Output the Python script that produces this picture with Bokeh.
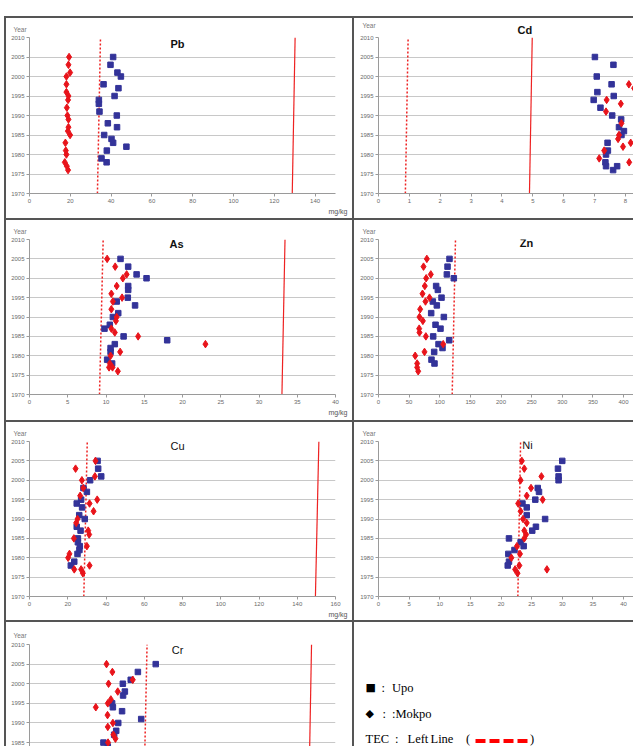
from bokeh.plotting import figure
from bokeh.models import Label, Spacer, Range1d, Title
from bokeh.layouts import column, row
from bokeh.embed import file_html
from bokeh.resources import INLINE
from bokeh.core.properties import value

# ---------------------------------------------------------------- data
YEAR_SPAN = [1970, 2010]

# Pb (mg/kg)
PB_UPO_YEAR = [2005, 2003, 2001, 2000, 1998, 1997, 1995, 1994, 1993, 1991,
               1990, 1988, 1987, 1985, 1984, 1983, 1982, 1981, 1979, 1978]
PB_UPO = [41.0, 39.7, 43.1, 44.8, 36.3, 43.6, 41.7, 34.0, 34.0, 34.3,
          42.8, 38.4, 42.9, 36.6, 40.2, 41.0, 47.5, 37.9, 35.3, 37.8]
PB_MOKPO_YEAR = [2005, 2003, 2001, 2000, 1998, 1996, 1995, 1994, 1992, 1990,
                 1989, 1987, 1986, 1985, 1983, 1981, 1980, 1978, 1977, 1976]
PB_MOKPO = [19.4, 19.1, 19.9, 18.1, 18.1, 18.1, 19.1, 18.9, 18.3, 18.6,
            19.1, 19.1, 18.8, 19.9, 17.6, 17.8, 18.1, 17.3, 18.3, 18.9]
PB_TEC = [33.3, 34.8]      # x at 1970, x at 2010
PB_PEC = [128.8, 130.2]

# Cd
CD_UPO_YEAR = [2005, 2003, 2000, 1998, 1996, 1995, 1994, 1992, 1990, 1989,
               1987, 1986, 1985, 1983, 1981, 1980, 1978, 1977, 1977, 1976]
CD_UPO = [7.01, 7.61, 7.07, 7.55, 7.09, 7.62, 6.97, 7.19, 7.57, 7.86,
          7.79, 7.95, 7.87, 7.42, 7.43, 7.37, 7.35, 7.37, 7.73, 7.60]
CD_MOKPO_YEAR = [1998, 1997, 1994, 1993, 1991, 1988, 1985, 1984, 1983, 1982,
                 1981, 1979, 1978]
CD_MOKPO = [8.11, 8.28, 7.39, 7.85, 7.37, 7.87, 7.79, 7.76, 8.17, 7.92,
            7.31, 7.15, 8.12]
CD_TEC = [0.87, 0.96]
CD_PEC = [4.89, 4.98]

# As
AS_UPO_YEAR = [2005, 2003, 2001, 2000, 1998, 1997, 1995, 1994, 1993, 1991,
               1990, 1988, 1987, 1985, 1984, 1983, 1982, 1981, 1979, 1978]
AS_UPO = [11.9, 12.9, 14.0, 15.3, 12.9, 12.9, 12.85, 11.4, 13.8, 11.6,
          10.9, 10.5, 9.8, 12.3, 18.0, 11.15, 10.6, 10.6, 10.15, 10.8]
AS_MOKPO_YEAR = [2005, 2003, 2001, 2000, 1998, 1996, 1995, 1994, 1992, 1990,
                 1989, 1987, 1986, 1985, 1983, 1981, 1980, 1978, 1977, 1977, 1976]
AS_MOKPO = [10.15, 11.2, 12.7, 12.2, 11.4, 10.7, 12.1, 10.9, 10.7, 11.4,
            11.3, 10.7, 11.15, 14.2, 23.0, 11.85, 10.6, 10.5, 10.4, 10.85, 11.55]
AS_TEC = [9.15, 9.63]
AS_PEC = [33.0, 33.4]

# Zn
ZN_UPO_YEAR = [2005, 2003, 2001, 2000, 1998, 1997, 1995, 1994, 1993, 1991,
               1990, 1988, 1987, 1985, 1984, 1983, 1982, 1981, 1979, 1978]
ZN_UPO = [115.9, 112.7, 111.6, 123.0, 94.1, 96.9, 102.9, 88.7, 95.2, 86.0,
          106.7, 93.1, 101.2, 89.3, 115.4, 98.0, 104.5, 90.9, 86.5, 91.4]
ZN_MOKPO_YEAR = [2005, 2003, 2001, 2000, 1998, 1996, 1995, 1994, 1992, 1990,
                 1989, 1987, 1986, 1985, 1983, 1981, 1980, 1978, 1977, 1976]
ZN_MOKPO = [78.9, 73.5, 85.4, 77.8, 75.6, 71.8, 83.3, 76.7, 68.0, 66.9,
            72.4, 66.4, 66.9, 77.3, 105.6, 75.1, 59.9, 63.1, 63.1, 64.8]
ZN_TEC = [120.3, 125.7]

# Cu
CU_UPO_YEAR = [2005, 2003, 2001, 2000, 1998, 1997, 1995, 1994, 1993, 1991,
               1990, 1988, 1987, 1985, 1984, 1983, 1982, 1981, 1979, 1978]
CU_UPO = [35.6, 35.9, 37.5, 31.7, 28.2, 30.0, 27.0, 24.7, 27.5, 26.0,
          28.9, 24.7, 26.7, 25.3, 25.3, 26.3, 26.1, 25.1, 23.4, 21.6]
CU_MOKPO_YEAR = [2005, 2003, 2001, 2000, 1998, 1996, 1995, 1994, 1992, 1990,
                 1989, 1987, 1986, 1985, 1983, 1981, 1980, 1978, 1977, 1977, 1976]
CU_MOKPO = [34.5, 24.1, 34.2, 27.4, 28.1, 26.5, 35.4, 31.4, 33.5, 25.1,
            24.4, 30.7, 31.2, 23.2, 30.0, 20.9, 20.2, 31.4, 23.4, 27.0, 27.9]
CU_TEC = [28.4, 30.2]
CU_PEC = [149.5, 151.3]

# Ni
NI_UPO_YEAR = [2005, 2003, 2001, 2000, 1998, 1997, 1995, 1994, 1993, 1991,
               1990, 1988, 1987, 1985, 1984, 1983, 1982, 1981, 1979, 1978]
NI_UPO = [30.0, 29.3, 29.4, 29.4, 26.0, 26.2, 25.6, 23.5, 24.2, 24.2,
          27.2, 25.7, 25.1, 21.3, 23.2, 23.7, 22.2, 21.2, 21.3, 21.1]
NI_MOKPO_YEAR = [2005, 2003, 2001, 2000, 1998, 1996, 1995, 1994, 1992, 1990,
                 1989, 1987, 1986, 1985, 1983, 1981, 1980, 1978, 1977, 1977, 1976]
NI_MOKPO = [23.4, 23.8, 26.6, 23.2, 24.9, 24.2, 26.8, 22.8, 23.2, 23.6,
            24.2, 23.8, 24.1, 23.8, 22.6, 23.1, 21.7, 23.0, 22.3, 27.5, 22.7]
NI_TEC = [22.75, 23.2]

# Cr
CR_UPO_YEAR = [2005, 2003, 2001, 2000, 1998, 1997, 1995, 1994, 1993, 1991,
               1990, 1988, 1987, 1985, 1984]
CR_UPO = [49.5, 42.5, 39.7, 36.6, 37.4, 36.7, 32.4, 32.7, 36.3, 43.8,
          34.8, 34.0, 33.2, 29.0, 30.7]
CR_MOKPO_YEAR = [2005, 2003, 2001, 2000, 1998, 1996, 1995, 1994, 1992, 1990,
                 1989, 1987, 1986, 1985]
CR_MOKPO = [30.2, 32.5, 40.5, 31.0, 34.6, 31.9, 30.7, 26.0, 30.6, 32.7,
            30.7, 32.9, 33.7, 30.8]
CR_TEC = [44.8, 46.1]
CR_PEC = [109.5, 110.6]

# ---------------------------------------------------------------- style
UPO_COLOR = "#333399"
MOKPO_COLOR = "#e8141b"
LIMIT_COLOR = "#ee2222"
RULE_COLOR = "#555555"
GRID_COLOR = "#c8c8c8"
AXIS_COLOR = "#9a9a9a"
SANS = "Liberation Sans"
SERIF = "Liberation Serif"


def rule(w, h):
    return Spacer(width=w, height=h, styles={"background-color": RULE_COLOR})


def panel(cell_w, cell_h, border, x_end, x_ticks, y_start, title, bold,
          title_dx, title_dy, upo_x, upo_y, mok_x, mok_y,
          tec=None, pec=None, unit_label=False, show_xaxis=True,
          year_standoff=10, title_above=False):
    left, right, top, bottom = border
    p = figure(width=cell_w, height=cell_h,
               x_range=Range1d(0, x_end), y_range=Range1d(y_start, 2010),
               output_backend="svg", toolbar_location=None,
               title_location=None,
               min_border_left=left, min_border_right=right,
               min_border_top=top, min_border_bottom=bottom,
               x_axis_location="below" if show_xaxis else None)
    p.outline_line_color = None
    p.background_fill_color = "white"
    p.border_fill_color = "white"

    p.yaxis.ticker = list(range(1970, 2011, 5))
    p.xgrid.visible = False
    p.ygrid.grid_line_color = GRID_COLOR
    p.ygrid.grid_line_width = 1

    axes = list(p.yaxis) + (list(p.xaxis) if show_xaxis else [])
    for ax in axes:
        ax.axis_line_color = AXIS_COLOR
        ax.major_tick_line_color = AXIS_COLOR
        ax.major_tick_out = 3
        ax.major_tick_in = 0
        ax.minor_tick_line_color = None
        ax.major_label_text_font = SANS
        ax.major_label_text_font_size = "6px"
        ax.major_label_text_color = "#6a6a6a"
        ax.major_label_standoff = 2
    if show_xaxis:
        p.xaxis.ticker = x_ticks

    # guideline values: dashed = lower (TEC), solid = upper (PEC)
    if tec is not None:
        p.line(x=tec, y=YEAR_SPAN, line_color=LIMIT_COLOR, line_width=1.5,
               line_dash="2 2")
    if pec is not None:
        p.line(x=pec, y=YEAR_SPAN, line_color=LIMIT_COLOR, line_width=1.2)

    p.scatter(x=upo_x, y=upo_y, marker="square", size=5.5,
              fill_color=UPO_COLOR, line_color=UPO_COLOR)
    p.scatter(x=mok_x, y=mok_y, marker="diamond", size=7.5,
              fill_color=MOKPO_COLOR, line_color=MOKPO_COLOR)

    fw = cell_w - left - right
    fh = cell_h - top - bottom
    xpp = x_end / fw
    ypp = (2010 - y_start) / fh

    style = "bold" if bold else "normal"
    if title_above:
        # element name sits above the plotting area
        p.add_layout(Title(text=title, align="left", offset=title_dx - 7,
                           standoff=3, text_font=SANS, text_font_size="11px",
                           text_font_style=style, text_color="#111111"),
                     "above")
    else:
        p.add_layout(Label(x=title_dx * xpp, y=2010 - title_dy * ypp,
                           text=title, text_align="center",
                           text_baseline="middle", text_font=SANS,
                           text_font_size="11px", text_font_style=style,
                           text_color="#111111"))
    p.add_layout(Title(text="Year", align="left", offset=-16,
                       standoff=year_standoff, text_font=SANS,
                       text_font_size="6.5px", text_font_style="normal",
                       text_color="#777777"), "above")
    if unit_label:
        p.add_layout(Title(text="mg/kg", align="right", offset=-12,
                           standoff=0, text_font=SANS, text_font_size="7px",
                           text_font_style="normal", text_color="#555555"),
                     "below")
    return p


LEFT_W, RIGHT_W = 346, 279
B_LEFT = (23, 17)
B_RIGHT = (24, 0)
# frames in one table row share top/bottom margins
ROW1_TB = (18, 25)
ROW2_TB = (17, 26)
ROW3_TB = (17, 24)
ROW4_TB = (22, 0)

pb = panel(LEFT_W, 200, B_LEFT + ROW1_TB, 150, list(range(0, 141, 20)), 1970,
           "Pb", True, 148, 7, PB_UPO, PB_UPO_YEAR, PB_MOKPO, PB_MOKPO_YEAR,
           tec=PB_TEC, pec=PB_PEC, unit_label=True)
cd = panel(RIGHT_W, 200, B_RIGHT + ROW1_TB, 8.26, list(range(0, 9)), 1970,
           "Cd", True, 146, -8, CD_UPO, CD_UPO_YEAR, CD_MOKPO, CD_MOKPO_YEAR,
           tec=CD_TEC, pec=CD_PEC, title_above=True, year_standoff=-17)
as_ = panel(LEFT_W, 200, B_LEFT + ROW2_TB, 40, list(range(0, 41, 5)), 1970,
            "As", True, 147, 5, AS_UPO, AS_UPO_YEAR, AS_MOKPO, AS_MOKPO_YEAR,
            tec=AS_TEC, pec=AS_PEC, unit_label=True)
zn = panel(RIGHT_W, 200, B_RIGHT + ROW2_TB, 416.3, list(range(0, 401, 50)), 1970,
           "Zn", True, 148, 4, ZN_UPO, ZN_UPO_YEAR, ZN_MOKPO, ZN_MOKPO_YEAR,
           tec=ZN_TEC)
cu = panel(LEFT_W, 198, B_LEFT + ROW3_TB, 160, list(range(0, 161, 20)), 1970,
           "Cu", False, 148, 5, CU_UPO, CU_UPO_YEAR, CU_MOKPO, CU_MOKPO_YEAR,
           tec=CU_TEC, pec=CU_PEC, unit_label=True)
ni = panel(RIGHT_W, 198, B_RIGHT + ROW3_TB, 41.63, list(range(0, 41, 5)), 1970,
           "Ni", False, 149, 4, NI_UPO, NI_UPO_YEAR, NI_MOKPO, NI_MOKPO_YEAR,
           tec=NI_TEC)
cr = panel(LEFT_W, 124, B_LEFT + ROW4_TB, 120, list(range(0, 121, 20)), 1984.0,
           "Cr", False, 148, 5, CR_UPO, CR_UPO_YEAR, CR_MOKPO, CR_MOKPO_YEAR,
           tec=CR_TEC, pec=CR_PEC, show_xaxis=False, year_standoff=11)

# ---------------------------------------------------------------- key cell
KEY_H = 124
KEY_TOP = ROW4_TB[0]
key = figure(width=RIGHT_W, height=KEY_H, x_range=Range1d(0, RIGHT_W),
             y_range=Range1d(0, KEY_H - KEY_TOP), output_backend="svg",
             toolbar_location=None, title_location=None,
             min_border_left=0, min_border_right=0,
             min_border_top=KEY_TOP, min_border_bottom=0,
             x_axis_location=None, y_axis_location=None)
key.grid.visible = False
key.outline_line_color = None
key.border_fill_color = "white"

key.text(x=[11, 11], y=[59, 33], text=["\u25a0", "\u25c6"],
         text_font=value("DejaVu Sans"), text_font_size="11px",
         text_baseline="middle", text_align="left", text_color="black")
key.text(x=[27, 37.5, 28, 37.5, 11, 40.5, 53, 76, 111.5, 175.5],
         y=[59, 59, 33, 33, 8, 8, 8, 8, 8, 8],
         text=[":", "Upo", ":", ":Mokpo", "TEC", ":", "Left", "Line", "(", ")"],
         text_font=value(SERIF), text_font_size="12.5px",
         text_baseline="middle", text_align="left", text_color="black")
key.line(x=[121, 174], y=[5.5, 5.5], line_color="#ff0000", line_width=4,
         line_dash="10 4")

# ---------------------------------------------------------------- table
H1, H2, H3, H4 = 200, 200, 198, 124


def table_row(h, a, b):
    return row(Spacer(width=4, height=h), rule(2, h), a, rule(2, h), b)


def hrule():
    return row(Spacer(width=4, height=2), rule(629, 2))


page = column(
    Spacer(width=633, height=16),
    hrule(),
    table_row(H1, pb, cd),
    hrule(),
    table_row(H2, as_, zn),
    hrule(),
    table_row(H3, cu, ni),
    hrule(),
    table_row(H4, cr, key),
)

open("out.html", "w").write(file_html(page, INLINE, title="Sediment metals"))
